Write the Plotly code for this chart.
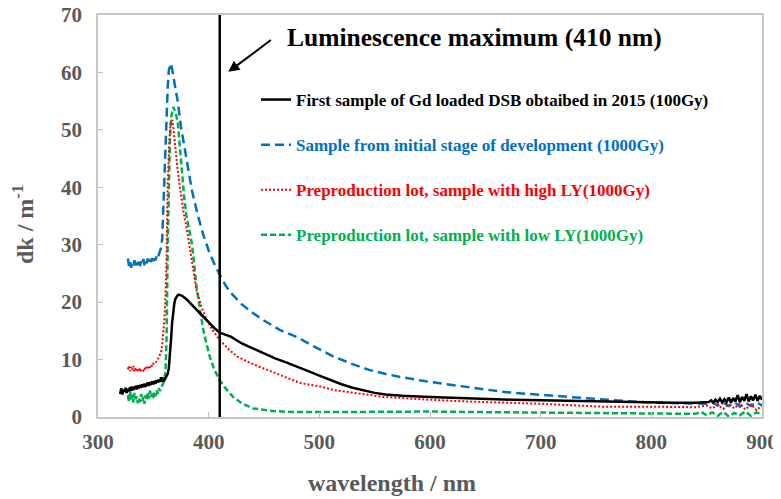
import plotly.graph_objects as go

# ---------------- data ----------------
black_x = list(range(320, 374)) + [376, 380, 385, 390, 395, 400, 405, 410, 420, 430, 440, 450, 460, 470, 480, 490,
                                   500, 510, 520, 530, 540, 550, 560, 575, 600, 625, 650, 675, 700, 725, 750, 775,
                                   800, 820, 840, 850] + list(range(852, 902, 2))
black_y = [4.0, 5.0, 3.9, 4.8, 4.4, 5.1, 4.2, 4.9, 4.5, 5.2, 4.6, 5.3, 4.7, 5.0, 5.4, 4.8, 5.5, 5.0, 5.6, 5.1,
           5.7, 5.2, 5.8, 5.3, 5.6, 6.0, 5.4, 6.1, 5.6, 6.2, 5.7, 6.3, 5.8, 6.4, 6.0, 6.5, 6.1, 6.9, 6.2, 6.6,
           6.4, 6.8, 7.0, 7.5, 8.5, 10.5, 13.5, 16.5, 18.6, 19.8, 20.6, 21.0, 21.2, 21.3,
           21.1, 20.5, 19.5, 18.4, 17.4, 16.4, 15.5, 14.7, 14.0, 12.8, 11.9, 11.1, 10.2, 9.5, 8.8, 8.0, 7.2,
           6.4, 5.7, 5.1, 4.6, 4.2, 3.9, 3.7, 3.5, 3.3, 3.15, 3.0, 2.9, 2.8, 2.7, 2.55, 2.5,
           2.5, 2.5, 2.6, 2.6, 2.9, 2.5, 3.0, 2.6, 3.2, 2.5, 3.1, 2.6, 3.4, 2.5, 3.3, 2.7, 3.8, 2.6, 3.5, 2.8,
           4.0, 2.7, 3.6, 2.9, 3.9, 2.8, 3.7, 3.0, 3.5]

blue_x = list(range(327, 368)) + [370, 372, 375, 380, 383, 385, 390, 395, 400, 405, 410, 415, 420, 430, 440, 450,
                                  465, 480, 495, 513, 530, 545, 560, 575, 600, 620, 640, 665, 690, 710, 730, 750,
                                  775, 800, 825, 850, 855, 860, 865, 870, 875, 880, 885, 890, 895, 900]
blue_y = [27.6, 26.3, 27.2, 26.0, 27.0, 26.4, 27.3, 26.2, 26.9, 26.5, 27.4, 26.3, 27.1, 26.6, 27.5, 26.4, 27.2,
          26.8, 27.6, 26.7, 27.4, 27.0, 27.8, 27.1, 27.6, 27.3, 28.0, 27.6, 28.3, 28.8, 29.5, 31.0, 36.0, 44.0,
          49.0, 53.5, 57.5, 60.4, 61.3, 61.6, 60.5,
          57.5, 55.0, 50.5, 44.5, 41.0, 39.3, 35.3, 31.8, 29.0, 26.7, 24.8, 23.0, 21.6, 19.6, 18.1, 16.8,
          15.1, 13.9, 12.3, 10.5, 9.2, 8.2, 7.5, 6.9, 6.1, 5.6, 5.1, 4.4, 4.0, 3.7, 3.4, 3.1,
          2.8, 2.5, 2.4, 2.3, 2.6, 2.0, 2.5, 1.9, 2.6, 1.8, 2.5, 1.9, 2.6, 2.0]

red_x = list(range(327, 371)) + [372, 374, 377, 380, 382, 385, 389, 393, 398, 404, 410, 418, 426, 440, 456, 470,
                                 483, 501, 513, 530, 558, 600, 634, 700, 755, 800, 840, 850, 855, 860, 865, 870,
                                 875, 880, 885, 890, 895, 900]
red_y = [8.3, 8.9, 8.0, 8.7, 8.2, 8.9, 7.9, 8.6, 8.1, 8.4, 7.9, 8.5, 8.0, 8.3, 8.1, 8.6, 8.2, 8.7, 8.4, 8.9,
         8.6, 9.1, 8.8, 9.3, 9.2, 9.6, 9.7, 10.0, 10.4, 10.8, 11.3, 12.5, 14.5, 17.0, 21.0, 28.0, 41.0, 46.0,
         50.0, 51.5, 51.7, 50.5, 48.5, 46.5,
         43.0, 40.1, 36.0, 33.0, 30.5, 26.5, 22.1, 19.5, 17.0, 15.0, 13.4, 11.8, 10.5, 9.2, 7.9, 6.9,
         5.9, 5.3, 4.7, 4.2, 3.5, 3.0, 2.7, 2.3, 1.8, 1.8, 1.7, 2.0, 1.5, 2.1, 1.4, 2.2,
         1.5, 2.4, 1.3, 2.2, 1.2, 2.0]

green_x = list(range(327, 371)) + [372, 374, 376, 378, 380, 382, 385, 389, 392, 395, 398, 401, 405, 410, 416, 422,
                                   430, 440, 455, 470, 500, 550, 600, 650, 700, 750, 800, 840, 845, 850, 855, 860,
                                   865, 870, 875, 880, 885, 890, 895, 900]
green_y = [3.8, 2.6, 4.5, 3.0, 3.9, 2.5, 4.2, 3.1, 3.6, 2.4, 3.3, 2.6, 4.0, 2.8, 3.5, 2.3, 3.8, 2.9, 4.3, 3.2,
           4.6, 3.5, 4.1, 3.3, 4.4, 3.6, 4.7, 4.0, 5.0, 4.5, 5.3, 5.5, 5.9, 6.5, 8.0, 14.0, 30.0, 42.4,
           48.0, 52.0, 53.4, 54.0, 53.5, 53.0,
           51.5, 46.5, 41.5, 38.0, 35.0, 33.0, 30.0, 22.7, 19.0, 15.3, 12.8, 10.5, 8.3, 6.4, 4.8, 3.5,
           2.4, 1.5, 1.1, 0.9, 0.85, 0.9, 0.95, 0.85, 0.8, 0.7, 0.6, 0.55, 0.9, 0.3, 0.8, 0.2,
           0.9, 0.1, 0.7, 0.3, 1.0, 0.2, 0.8, 0.4]

names = ["First sample of Gd loaded DSB obtaibed in 2015 (100Gy)",
         "Sample from initial stage of development (1000Gy)",
         "Preproduction lot, sample with high LY(1000Gy)",
         "Preproduction lot, sample with low LY(1000Gy)"]
colors = ["#000000", "#0070C0", "#FF0000", "#00B050"]
lum_max = 410
x_ticks = [300, 400, 500, 600, 700, 800, 900]
y_ticks = [0, 10, 20, 30, 40, 50, 60, 70]

# ---------------- figure ----------------
FONT = "Liberation Serif"
GREY = "#595959"
OFF = 8  # page body margin of the browser
W, H = 781 - OFF, 499 - OFF
ML, MT = 98 - OFF, 15 - OFF
MR, MB = W - (762 - OFF), H - (417 - OFF)
PW, PH = W - ML - MR, H - MT - MB


def px_x(p):
    return (p - OFF - ML) / PW


def px_y(p):
    return (H - MB - (p - OFF)) / PH


fig = go.Figure()

series = [(black_x, black_y, "solid", 2.5), (blue_x, blue_y, "9px,5px", 2.5),
          (red_x, red_y, "2px,2px", 2), (green_x, green_y, "6px,3px", 2.5)]
for i in [1, 3, 2, 0]:
    xs, ys, dash, w = series[i]
    fig.add_trace(go.Scatter(
        x=xs, y=ys, mode="lines",
        line=dict(color=colors[i], width=w, dash=dash),
        name=f"<span style='color:{colors[i]}'>{names[i]}</span>",
        legendgroup=str(i), legendrank=i + 1,
    ))

fig.add_shape(type="line", x0=lum_max, x1=lum_max, y0=0, y1=70, xref="x", yref="y",
              line=dict(color="black", width=2.5))

fig.add_annotation(x=417.8, y=60.1, xref="x", yref="y", text="", showarrow=True,
                   ax=44, ay=-33, arrowhead=2, arrowsize=1.1, arrowwidth=2, arrowcolor="black")
fig.add_annotation(x=640, y=66.0, xref="x", yref="y", text="<b>Luminescence maximum (410 nm)</b>",
                   showarrow=False, font=dict(family=FONT, size=25.5, color="black"),
                   xanchor="center", yanchor="middle")

fig.add_annotation(x=px_x(392), y=px_y(483), xref="paper", yref="paper", text="<b>wavelength / nm</b>",
                   showarrow=False, xanchor="center", yanchor="middle",
                   font=dict(family=FONT, size=24, color=GREY))
fig.add_annotation(x=px_x(23), y=px_y(225), xref="paper", yref="paper", text="<b>dk / m<sup>-1</sup></b>",
                   showarrow=False, textangle=-90, xanchor="center", yanchor="middle",
                   font=dict(family=FONT, size=24, color=GREY))

axis_common = dict(showline=True, linecolor="#C8C8C8", linewidth=1.5, mirror=True, showgrid=False,
                   zeroline=False, ticks="inside", ticklen=5, tickcolor="#BFBFBF", automargin=False,
                   ticklabeloverflow="allow",
                   tickfont=dict(family=FONT, size=21, color=GREY, weight="bold"))
fig.update_xaxes(range=[300, 900], tickvals=x_ticks, ticklabelstandoff=5, **axis_common)
fig.update_yaxes(range=[0, 70], tickvals=y_ticks, ticklabelstandoff=10, **axis_common)

fig.update_layout(
    width=W, height=H,
    margin=dict(l=ML, r=MR, t=MT, b=MB, autoexpand=False),
    paper_bgcolor="white", plot_bgcolor="white",
    showlegend=True,
    legend=dict(x=px_x(256), y=px_y(82), xanchor="left", yanchor="top", bgcolor="rgba(0,0,0,0)",
                font=dict(family=FONT, size=17, weight="bold"), itemwidth=30,
                tracegroupgap=20, traceorder="grouped"),
)

fig.write_html("out.html")
